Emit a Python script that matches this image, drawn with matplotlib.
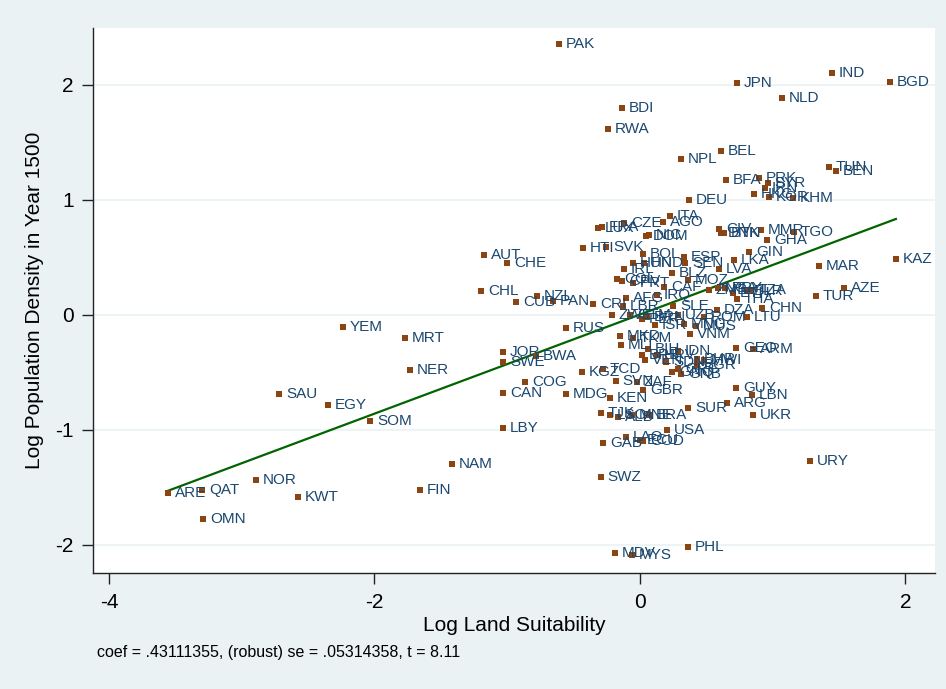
import matplotlib
matplotlib.use("Agg")
from matplotlib import pyplot as plt
import numpy as np

# country codes, log land suitability (x), log population density 1500 (y)
codes = ["PAK", "IND", "BGD", "JPN", "NLD", "BDI", "RWA", "BEL", "NPL", "TUN",
         "BEN", "BFA", "PRK", "SYR", "IRN", "HKG", "KOR", "KHM", "DEU", "ITA",
         "AGO", "CZE", "LUX", "FRA", "DOM", "NIC", "HTI", "SVK", "CIV", "DNK",
         "BTN", "MMR", "TGO", "GHA", "GIN", "LKA", "LVA", "MAR", "AZE", "TUR",
         "KAZ", "ZMB", "NGA", "PRY", "ETH", "BLR", "TZA", "THA", "CHN", "LTU",
         "DZA", "ROM", "BOL", "ESP", "HUN", "HND", "SEN", "IRL", "BLZ", "COL",
         "CPV", "PRT", "MOZ", "CAF", "IRQ", "AFG", "LBR", "SLE", "CRI", "ZWE",
         "GTM", "PER", "BRN", "ISR", "UZB", "MNG", "MUS", "VNM", "AUT", "CHE",
         "CHL", "CUB", "NZL", "PAN", "RUS", "YEM", "MRT", "NER", "SAU", "EGY",
         "SOM", "ARE", "QAT", "OMN", "NOR", "KWT", "FIN", "NAM", "JOR", "SWE",
         "BWA", "COG", "CAN", "MDG", "LBY", "KGZ", "TCD", "SVN", "ZAF", "GBR",
         "KEN", "MKD", "TKM", "MLI", "BIH", "BRB", "VEN", "HRV", "SDN", "IDN",
         "BHR", "MWI", "BGR", "GNQ", "GRC", "GNB", "GEO", "ARM", "GUY", "LBN",
         "ARG", "UKR", "SUR", "URY", "TJK", "LSO", "ALB", "MNE", "BRA", "USA",
         "LAO", "ECU", "COD", "GAB", "SWZ", "MDV", "MYS", "PHL"]

land = [-0.610, 1.446, 1.883, 0.731, 1.070, -0.136, -0.241, 0.610, 0.309, 1.424,
        1.476, 0.648, 0.896, 0.964, 0.942, 0.859, 0.972, 1.153, 0.369, 0.226,
        0.173, -0.121, -0.316, -0.286, 0.045, 0.068, -0.429, -0.256, 0.595, 0.610,
        0.633, 0.912, 1.160, 0.957, 0.821, 0.708, 0.595, 1.348, 1.537, 1.326,
        1.928, 0.520, 0.588, 0.640, 0.701, 0.806, 0.836, 0.731, 0.919, 0.806,
        0.580, 0.482, 0.023, 0.331, -0.053, 0.030, 0.339, -0.121, 0.241, -0.173,
        -0.136, -0.053, 0.362, 0.181, 0.128, -0.105, -0.128, 0.249, -0.354, -0.211,
        -0.075, 0.015, 0.053, 0.113, 0.286, 0.331, 0.422, 0.377, -1.175, -1.002,
        -1.198, -0.934, -0.776, -0.655, -0.557, -2.237, -1.770, -1.733, -2.719, -2.350,
        -2.034, -3.556, -3.299, -3.292, -2.893, -2.576, -1.657, -1.416, -1.032, -1.032,
        -0.783, -0.866, -1.032, -0.557, -1.032, -0.437, -0.279, -0.181, -0.023, 0.023,
        -0.226, -0.151, -0.053, -0.143, 0.060, 0.015, 0.038, 0.128, 0.196, 0.286,
        0.429, 0.482, 0.429, 0.241, 0.286, 0.309, 0.723, 0.851, 0.723, 0.844,
        0.655, 0.851, 0.362, 1.281, -0.294, -0.226, -0.166, -0.060, 0.068, 0.203,
        -0.105, 0.000, 0.023, -0.279, -0.294, -0.188, -0.060, 0.362]

dens = [2.357, 2.104, 2.026, 2.017, 1.887, 1.800, 1.617, 1.426, 1.357, 1.287,
        1.252, 1.174, 1.191, 1.148, 1.104, 1.052, 1.026, 1.017, 1.000, 0.861,
        0.809, 0.800, 0.757, 0.765, 0.687, 0.696, 0.583, 0.591, 0.748, 0.713,
        0.713, 0.739, 0.722, 0.652, 0.548, 0.478, 0.400, 0.426, 0.235, 0.157,
        0.487, 0.217, 0.235, 0.235, 0.191, 0.209, 0.217, 0.139, 0.061, -0.017,
        0.043, -0.017, 0.530, 0.504, 0.452, 0.452, 0.452, 0.400, 0.365, 0.313,
        0.296, 0.278, 0.304, 0.243, 0.174, 0.148, 0.070, 0.070, 0.096, 0.000,
        0.000, -0.043, -0.017, -0.087, 0.000, -0.078, -0.096, -0.165, 0.522, 0.452,
        0.209, 0.113, 0.157, 0.122, -0.113, -0.104, -0.200, -0.478, -0.687, -0.791,
        -0.930, -1.548, -1.522, -1.774, -1.435, -1.591, -1.522, -1.296, -0.330, -0.417,
        -0.357, -0.583, -0.678, -0.687, -0.983, -0.504, -0.470, -0.574, -0.583, -0.652,
        -0.722, -0.183, -0.200, -0.261, -0.296, -0.348, -0.391, -0.348, -0.417, -0.313,
        -0.383, -0.391, -0.443, -0.504, -0.470, -0.513, -0.287, -0.304, -0.643, -0.696,
        -0.765, -0.870, -0.809, -1.270, -0.852, -0.870, -0.887, -0.878, -0.870, -1.000,
        -1.061, -1.087, -1.104, -1.113, -1.417, -2.078, -2.087, -2.026]

coef = 0.43111355
se = 0.05314358
tstat = 8.11

bg = "#eaf2f3"
plt.rcParams["font.family"] = ["Liberation Sans", "DejaVu Sans"]

fig = plt.figure(figsize=(9.46, 6.89), dpi=100, facecolor=bg)
ax = fig.add_axes([0.0983, 0.168, 0.8897, 0.791])
ax.set_facecolor("white")

x = np.array(land)
y = np.array(dens)

ax.plot(x, y, "s", color="#8b4513", markersize=4.2, markeredgewidth=0, zorder=3)
for c, xi, yi in zip(codes, x, y):
    ax.annotate(c, (xi, yi), xytext=(5, 0), textcoords="offset points",
                va="center", ha="left", fontsize=11, color="#1a476f", zorder=4)

# fitted line (added-variable plot, goes through origin)
xs = np.array([x.min(), x.max()])
ax.plot(xs, coef * xs, color="#006400", linewidth=1.6, zorder=2)

ax.set_xlim(-4.12, 2.22)
ax.set_ylim(-2.25, 2.49)
ax.set_xticks([-4, -2, 0, 2])
ax.set_yticks([-2, -1, 0, 1, 2])
ax.set_xticklabels(["-4", "-2", "0", "2"])
ax.set_yticklabels(["-2", "-1", "0", "1", "2"])
ax.yaxis.grid(True, color=bg, linewidth=1.2, zorder=0)
ax.set_axisbelow(True)

for s in ["top", "right"]:
    ax.spines[s].set_visible(False)
for s in ["left", "bottom"]:
    ax.spines[s].set_color("#222222")
    ax.spines[s].set_linewidth(1.0)
ax.tick_params(axis="both", length=8, width=1, color="#222222",
               labelsize=15, pad=6, labelcolor="black")

ax.set_xlabel("Log Land Suitability", fontsize=15, labelpad=3)
ax.set_ylabel("Log Population Density in Year 1500", fontsize=15, labelpad=8)

fig.text(97 / 946, 1 - 652 / 689,
         f"coef = .{str(coef).split('.')[1]}, (robust) se = .{str(se).split('.')[1]}, t = {tstat}",
         fontsize=11.5, va="center", ha="left")

fig.savefig("out.png", dpi=100, facecolor=bg)
